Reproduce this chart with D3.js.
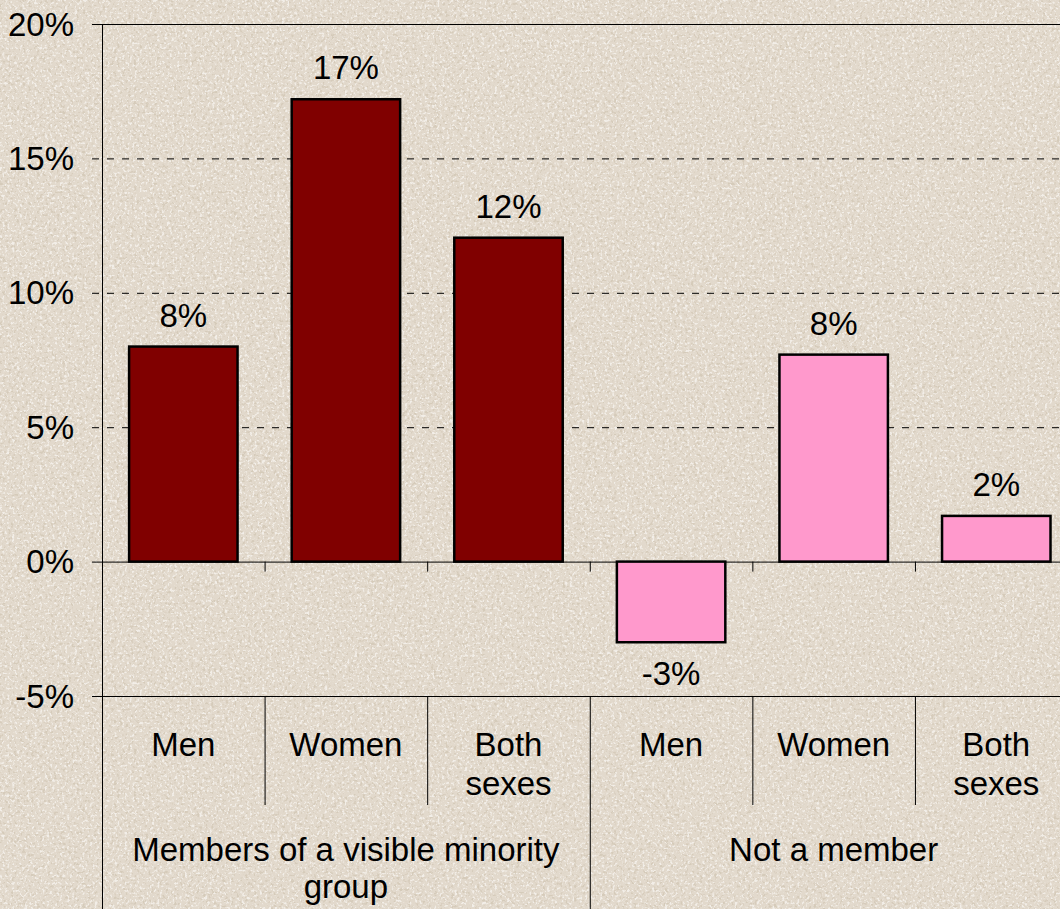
<!DOCTYPE html>
<html>
<head>
<meta charset="utf-8">
<script src="https://cdn.jsdelivr.net/npm/d3@7"></script>
<style>
  html, body { margin: 0; padding: 0; background: #e3dbcf; }
  svg { display: block; }
  text { font-family: "Liberation Sans", Arial, sans-serif; font-size: 33px; fill: #000; }
</style>
</head>
<body>
<div id="chart"></div>
<script>
// chart data
const categories = ["Men", "Women", "Both sexes", "Men", "Women", "Both sexes"];
const groups = ["Members of a visible minority group", "Not a member"];
const groupOf = [0, 0, 0, 1, 1, 1];
const values = [8.0, 17.2, 12.05, -3.0, 7.7, 1.7];
const valueLabels = ["8%", "17%", "12%", "-3%", "8%", "2%"];
const yTicks = [-5, 0, 5, 10, 15, 20];

const W = 1060, H = 909;
const plotLeft = 102, plotTop = 24;
const catW = 162.6;

const svg = d3.select("#chart").append("svg")
  .attr("width", W)
  .attr("height", H);

// granite-ish background: dark and light speckles over a beige base
const defs = svg.append("defs");
function grain(id, freq, seed, rgb, a, b) {
  const f = defs.append("filter").attr("id", id)
    .attr("x", 0).attr("y", 0).attr("width", "100%").attr("height", "100%")
    .attr("filterUnits", "userSpaceOnUse");
  f.append("feTurbulence")
    .attr("type", "fractalNoise")
    .attr("baseFrequency", freq)
    .attr("numOctaves", 2)
    .attr("seed", seed)
    .attr("result", "noise");
  f.append("feColorMatrix")
    .attr("in", "noise")
    .attr("type", "matrix")
    .attr("values", `0 0 0 0 ${rgb[0]}  0 0 0 0 ${rgb[1]}  0 0 0 0 ${rgb[2]}  ${a} 0 0 0 ${b}`);
}
grain("grainDark", 0.35, 7, [0.62, 0.54, 0.43], 7, -3.9);
grain("grainLight", 0.4, 19, [0.96, 0.94, 0.91], 6, -3.2);

svg.append("rect").attr("width", W).attr("height", H).attr("fill", "#e2d9cc");
svg.append("rect").attr("width", W).attr("height", H).attr("filter", "url(#grainLight)").attr("opacity", 0.7);
svg.append("rect").attr("width", W).attr("height", H).attr("filter", "url(#grainDark)").attr("opacity", 0.6);

const y = d3.scaleLinear().domain([-5, 20]).range([696, plotTop]);
const x = d3.scaleBand()
  .domain(d3.range(categories.length))
  .range([plotLeft, plotLeft + catW * categories.length])
  .paddingInner(0.333)
  .paddingOuter(0.1667);
const step = x.step();
const catStart = i => plotLeft + i * step;

// gridlines + left ticks
const g = svg.append("g");
g.selectAll("line.grid")
  .data(yTicks)
  .join("line")
  .attr("x1", d => (d === 0 ? plotLeft : plotLeft - 10))
  .attr("x2", W)
  .attr("y1", d => y(d) + 0.5)
  .attr("y2", d => y(d) + 0.5)
  .attr("stroke", "#000")
  .attr("stroke-width", 1)
  .attr("stroke-dasharray", d => (d > 0 && d < 20 ? "7,8" : null));

g.selectAll("line.tk0")
  .data(yTicks.filter(d => d === 0))
  .join("line")
  .attr("x1", plotLeft - 10).attr("x2", plotLeft)
  .attr("y1", d => y(d) + 0.5).attr("y2", d => y(d) + 0.5)
  .attr("stroke", "#000");

g.selectAll("text.ytick")
  .data(yTicks)
  .join("text")
  .attr("x", 74)
  .attr("y", d => y(d) + 11.5)
  .attr("text-anchor", "end")
  .text(d => d + "%");

// bars
svg.append("g").selectAll("rect")
  .data(values)
  .join("rect")
  .attr("x", (d, i) => x(i))
  .attr("width", x.bandwidth())
  .attr("y", d => y(Math.max(0, d)))
  .attr("height", d => Math.abs(y(d) - y(0)))
  .attr("fill", (d, i) => (groupOf[i] === 0 ? "#800000" : "#ff99cc"))
  .attr("stroke", "#000")
  .attr("stroke-width", 2.5);

// 0% axis ticks between categories
svg.append("g").selectAll("line")
  .data(d3.range(1, categories.length))
  .join("line")
  .attr("x1", i => catStart(i) + 0.5).attr("x2", i => catStart(i) + 0.5)
  .attr("y1", y(0)).attr("y2", y(0) + 10)
  .attr("stroke", "#000");

// value labels
svg.append("g").selectAll("text")
  .data(values)
  .join("text")
  .attr("x", (d, i) => x(i) + x.bandwidth() / 2)
  .attr("y", d => (d >= 0 ? y(d) - 20 : y(d) + 43))
  .attr("text-anchor", "middle")
  .text((d, i) => valueLabels[i]);

// y axis line
svg.append("line")
  .attr("x1", plotLeft + 0.5).attr("x2", plotLeft + 0.5)
  .attr("y1", plotTop).attr("y2", H)
  .attr("stroke", "#000");

// category dividers
svg.append("g").selectAll("line")
  .data(d3.range(1, categories.length + 1))
  .join("line")
  .attr("x1", i => catStart(i) + 0.5).attr("x2", i => catStart(i) + 0.5)
  .attr("y1", y(-5))
  .attr("y2", i => (i % 3 === 0 ? H : 805))
  .attr("stroke", "#000");

// category labels
const catLbl = svg.append("g").selectAll("text")
  .data(categories)
  .join("text")
  .attr("text-anchor", "middle")
  .attr("y", 756);
catLbl.each(function (d, i) {
  const words = d === "Both sexes" ? ["Both", "sexes"] : [d];
  const t = d3.select(this);
  words.forEach((w, k) => {
    t.append("tspan")
      .attr("x", x(i) + x.bandwidth() / 2)
      .attr("dy", k === 0 ? 0 : 39)
      .text(w);
  });
});

// group labels
const groupLines = [["Members of a visible minority", "group"], ["Not a member"]];
svg.append("g").selectAll("text")
  .data(groups)
  .join("text")
  .attr("text-anchor", "middle")
  .attr("y", 861)
  .each(function (d, gi) {
    const cx = catStart(gi * 3) + step * 1.5;
    groupLines[gi].forEach((w, k) => {
      d3.select(this).append("tspan")
        .attr("x", cx)
        .attr("dy", k === 0 ? 0 : 37)
        .text(w);
    });
  });
</script>
</body>
</html>
